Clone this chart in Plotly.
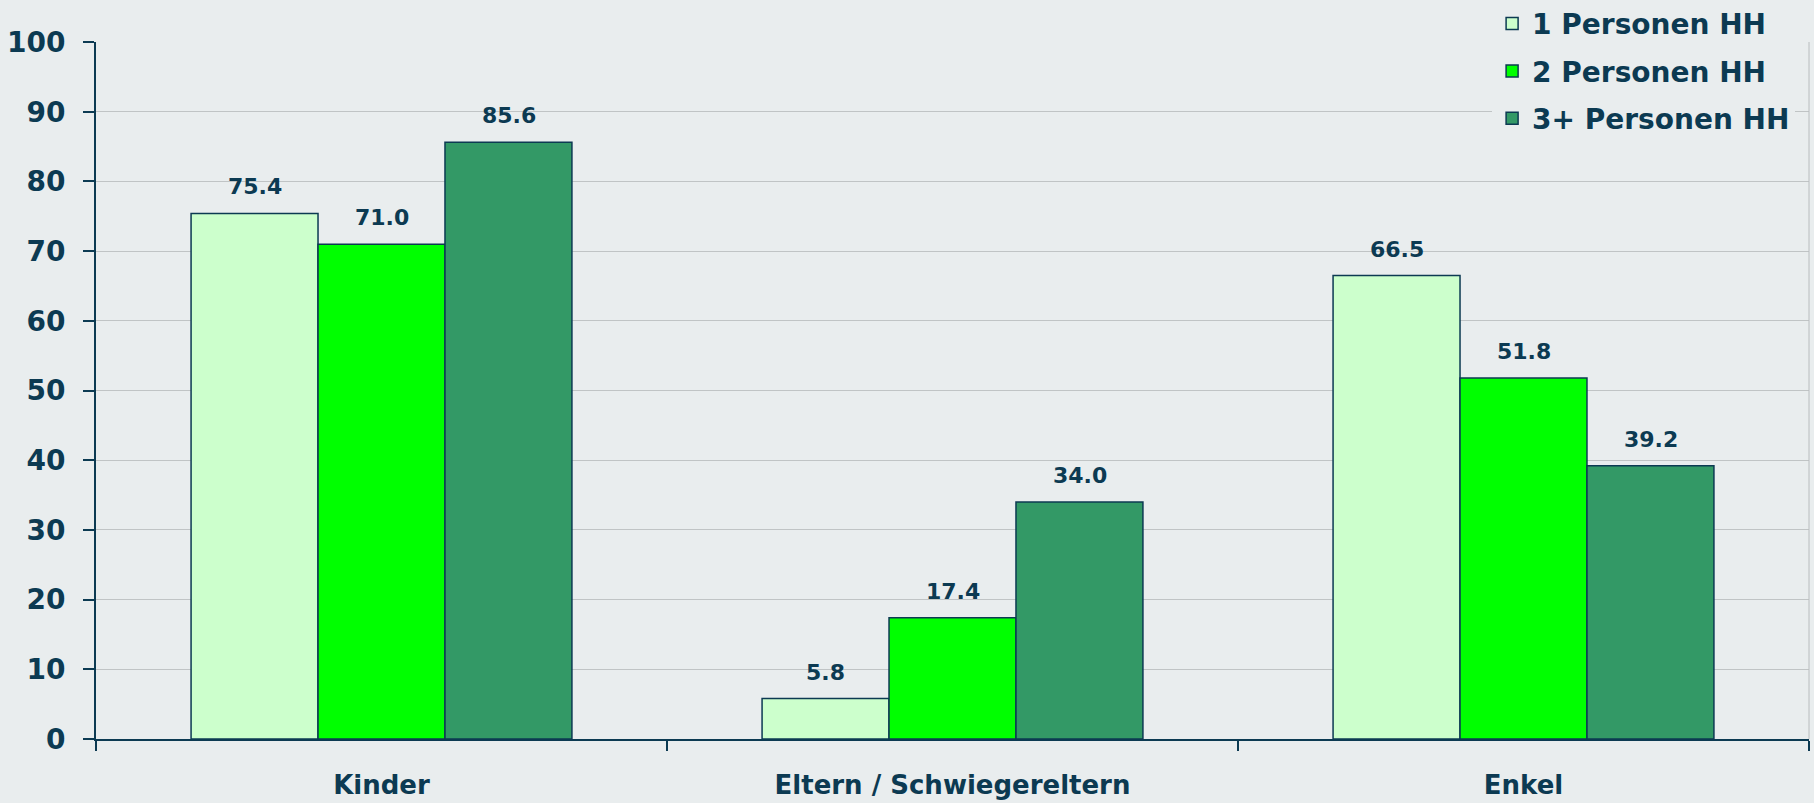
import plotly.graph_objects as go

categories = ["Kinder", "Eltern / Schwiegereltern", "Enkel"]
series_names = ["1 Personen HH", "2 Personen HH", "3+ Personen HH"]
hh1 = [75.4, 5.8, 66.5]
hh2 = [71.0, 17.4, 51.8]
hh3 = [85.6, 34.0, 39.2]
y_ticks = [0, 10, 20, 30, 40, 50, 60, 70, 80, 90, 100]

colors = ["#CCFFCC", "#00FF00", "#339966"]
navy = "#0C3A52"
bg = "#E9EDEE"
FONT = "DejaVu Sans"

fig = go.Figure()
all_series = [hh1, hh2, hh3]
for name, vals, col in zip(series_names, all_series, colors):
    fig.add_trace(go.Bar(
        x=categories, y=vals, name=name, legendgroup=name,
        marker=dict(color=col, line=dict(color=navy, width=1.5)),
    ))

# data labels above bars
bar_px = 127
for i, vals in enumerate(all_series):
    for c, v in zip(categories, vals):
        fig.add_annotation(
            x=c, y=v, text=f"{v:.1f}", showarrow=False,
            xshift=(i - 1) * bar_px, yshift=12, yanchor="bottom",
            font=dict(family=FONT, size=22, color=navy, weight="bold"),
        )

# right border line of plot area
fig.add_shape(type="line", xref="paper", yref="y", x0=1, x1=1, y0=0, y1=100,
              line=dict(color="#B8BCBE", width=1))

fig.update_layout(
    width=1814, height=803,
    paper_bgcolor=bg, plot_bgcolor=bg,
    margin=dict(l=96, r=5, t=42, b=64, autoexpand=False),
    barmode="group", bargap=0.333, bargroupgap=0,
    font=dict(family=FONT, color=navy, weight="bold"),
    showlegend=True,
    legend=dict(
        x=0.815, y=1.062, xanchor="left", yanchor="top",
        bgcolor=bg, font=dict(family=FONT, size=28, color=navy, weight="bold"),
        itemwidth=30, tracegroupgap=8,
    ),
    xaxis=dict(
        type="category", tickson="boundaries", ticks="outside", ticklen=10,
        tickwidth=2, tickcolor=navy, showline=True, linecolor=navy, linewidth=2,
        showgrid=False, ticklabelstandoff=22,
        tickfont=dict(family=FONT, size=26, color=navy, weight="bold"),
    ),
    yaxis=dict(
        range=[0, 100], tickvals=y_ticks, ticks="outside", ticklen=11,
        tickwidth=2, tickcolor=navy, showline=True, linecolor=navy, linewidth=2,
        showgrid=True, gridcolor="#C0C4C5", gridwidth=1, zeroline=False,
        ticklabelstandoff=12,
        tickfont=dict(family=FONT, size=28, color=navy, weight="bold"),
    ),
)

fig.write_html(
    "out.html",
    config={"displayModeBar": False},
    post_script="document.body.style.margin='0';document.body.style.overflow='hidden';",
)
